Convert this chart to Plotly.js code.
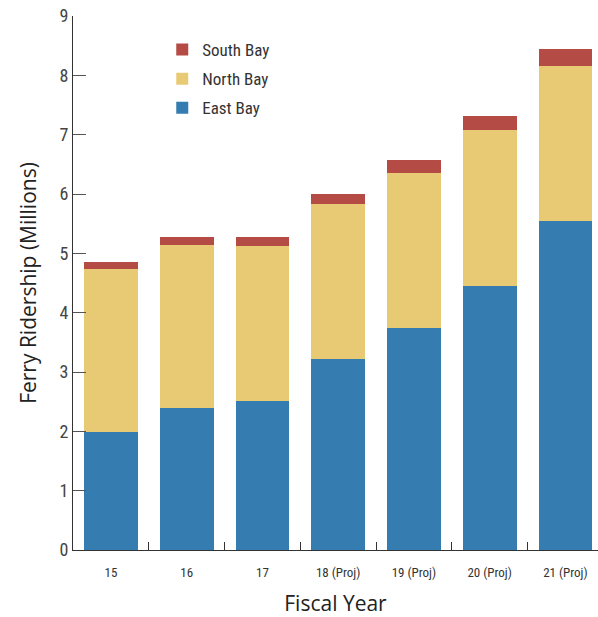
<!DOCTYPE html>
<html><head><meta charset="utf-8">
<script src="https://cdn.plot.ly/plotly-3.0.1.min.js"></script>
<style>html,body{margin:0;padding:0;background:#fff}#chart{width:598px;height:617px}</style>
</head><body><div id="chart"></div>
<script>
const years = ["15","16","17","18 (Proj)","19 (Proj)","20 (Proj)","21 (Proj)"];
const eastBay  = [1.99, 2.39, 2.51, 3.22, 3.74, 4.45, 5.55];
const northBay = [2.75, 2.75, 2.62, 2.61, 2.62, 2.63, 2.61];
const southBay = [0.12, 0.14, 0.15, 0.17, 0.22, 0.24, 0.29];
const yTicks = [0,1,2,3,4,5,6,7,8,9];

const cond = '"Liberation Sans Narrow", "Roboto Condensed", "Arial Narrow", sans-serif';
const titleFont = '"Open Sans", Lato, sans-serif';
const traces = [
  {type:'bar', name:'East Bay', x:years, y:eastBay, marker:{color:'#357DB1'}, legendgroup:'e', legendrank:3},
  {type:'bar', name:'North Bay', x:years, y:northBay, marker:{color:'#E8CA75'}, legendgroup:'n', legendrank:2},
  {type:'bar', name:'South Bay', x:years, y:southBay, marker:{color:'#B54B45'}, legendgroup:'s', legendrank:1}
];
const layout = {
  width:598, height:617,
  margin:{l:73, r:0, t:16, b:67},
  barmode:'stack', bargap:0.29,
  paper_bgcolor:'#fff', plot_bgcolor:'#fff',
  showlegend:true,
  legend:{x:0.17, y:0.97, xanchor:'left', yanchor:'top', traceorder:'grouped', tracegroupgap:4,
    font:{family:cond, size:17, color:'#333'}, bgcolor:'rgba(0,0,0,0)'},
  xaxis:{type:'category', range:[-0.5, 6.43], showline:true, linecolor:'#333', linewidth:1,
    ticks:'inside', tickson:'boundaries', ticklen:8, tickcolor:'#333', showgrid:false, zeroline:false,
    ticklabelstandoff:10,
    tickfont:{family:cond, size:13, color:'#333'},
    title:{text:'Fiscal Year', font:{family:titleFont, size:21, weight:500, color:'#222'}, standoff:20}},
  yaxis:{range:[0,9], tickvals:yTicks, showline:true, linecolor:'#333', linewidth:1,
    ticks:'inside', ticklen:13, tickcolor:'#555', showgrid:false, zeroline:false,
    tickfont:{family:cond, size:18, color:'#444'},
    title:{text:'Ferry Ridership (Millions)', font:{family:titleFont, size:21, weight:500, color:'#222'}, standoff:17}}
};
Plotly.newPlot('chart', traces, layout, {displayModeBar:false, staticPlot:true});
</script></body></html>
